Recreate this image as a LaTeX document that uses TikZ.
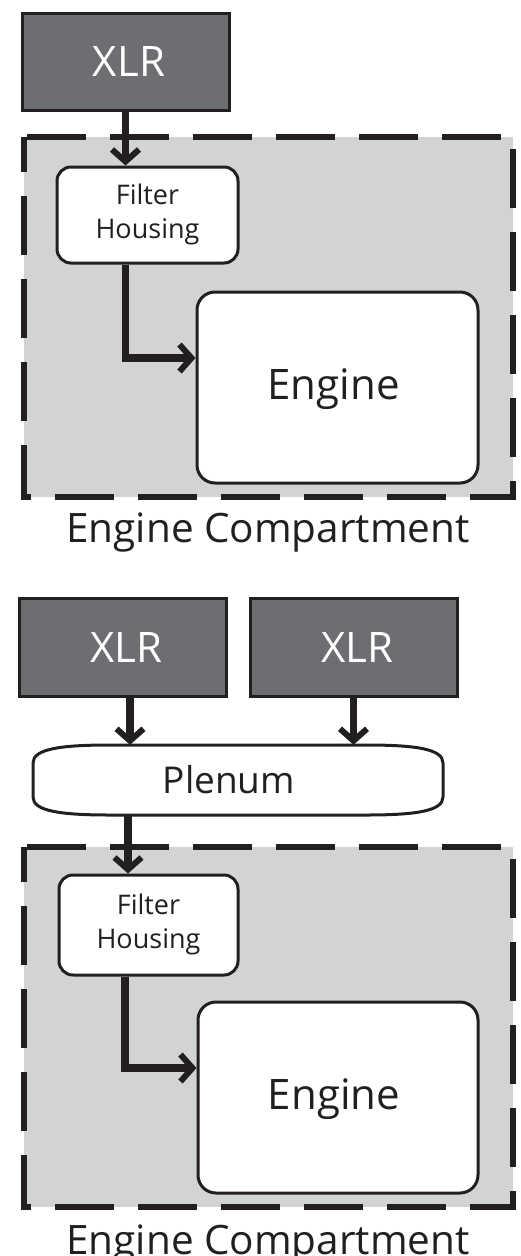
\documentclass[tikz,border=0pt]{standalone}
\usepackage{fontspec}
\setmainfont{Open Sans}
\usetikzlibrary{arrows.meta,calc}
\definecolor{xlrgray}{HTML}{6D6E71}
\definecolor{compgray}{HTML}{D1D3D4}
\definecolor{ink}{HTML}{231F20}
\begin{document}
\begin{tikzpicture}[x=1pt,y=-1pt,
  xlrbox/.style={draw=ink,line width=3pt,fill=xlrgray,inner sep=0pt},
  xlrtext/.style={text=white,inner sep=0pt,font=\fontsize{42}{42}\selectfont},
  filterbox/.style={draw=ink,line width=3pt,fill=white,rounded corners=14pt,inner sep=0pt},
  filtertext/.style={text=ink,inner sep=0pt,align=center,font=\fontsize{27}{34}\selectfont},
  enginebox/.style={draw=ink,line width=3pt,fill=white,rounded corners=18pt,inner sep=0pt},
  enginetext/.style={text=ink,inner sep=0pt,font=\fontsize{42}{42}\selectfont},
  comp/.style={fill=compgray,draw=ink,line width=6pt,dash pattern=on 59pt off 24pt,dash phase=24pt},
  complabel/.style={text=ink,inner sep=0pt,anchor=base,font=\fontsize{40.5}{40.5}\selectfont},
  flow/.style={draw=ink,line width=7.5pt,-{Straight Barb[length=12pt,width=27pt,line width=6pt]}},
  flowelbow/.style={draw=ink,line width=7.5pt,line join=miter,-{Straight Barb[length=12pt,width=27pt,line width=6pt]}}
]
\useasboundingbox (0,0) rectangle (520,1256);
% ---------- top diagram ----------
\draw[comp] (24,137) rectangle (513,497);
\node[xlrbox,minimum width=207pt,minimum height=97pt] (xlrA) at (125.5,61.5) {};
\node[xlrtext] (xlrAt) at ([xshift=3.5pt]xlrA.center) {XLR};
\node[filterbox,minimum width=181pt,minimum height=96pt] (filtA) at (147.5,215) {};
\node[filtertext] (filtAt) at ([yshift=1pt]filtA.center) {Filter\\Housing};
\node[enginebox,minimum width=281pt,minimum height=191pt] (engA) at (337.5,387.5) {};
\node[enginetext] (engAt) at ([xshift=-4pt,yshift=-2pt]engA.center) {Engine};
\node[complabel] (labA) at (268,542) {Engine Compartment};
\draw[flow] (xlrA.south) -- (xlrA.south |- filtA.north);
\coordinate (startA) at ([xshift=-22pt]filtA.south);
\draw[flowelbow] (startA) |- ([yshift=29.5pt]engA.west);
% ---------- bottom diagram ----------
\draw[comp] (24,847) rectangle (513,1207);
\node[xlrbox,minimum width=207pt,minimum height=98pt] (xlrB1) at (122.5,647) {};
\node[xlrtext] (xlrB1t) at ([xshift=4pt]xlrB1.center) {XLR};
\node[xlrbox,minimum width=207pt,minimum height=98pt] (xlrB2) at (353.5,647) {};
\node[xlrtext] (xlrB2t) at ([xshift=4pt]xlrB2.center) {XLR};
\node[inner sep=0pt,minimum width=410pt,minimum height=70pt] (plen) at (238,780) {};
\draw[ink,line width=3pt,fill=white]
  (33,763) .. controls (33,749) and (60,745) .. (110,745) -- (366,745)
  .. controls (416,745) and (443,749) .. (443,763) -- (443,797)
  .. controls (443,811) and (416,815) .. (366,815) -- (110,815)
  .. controls (60,815) and (33,811) .. (33,797) -- cycle;
\node[inner sep=0pt,text=ink,font=\fontsize{37}{37}\selectfont] (plent) at ([xshift=-9pt]plen.center) {Plenum};
\node[filterbox,minimum width=179pt,minimum height=100pt] (filtB) at (148.5,925) {};
\node[filtertext] (filtBt) at ([yshift=1pt]filtB.center) {Filter\\Housing};
\node[enginebox,minimum width=280pt,minimum height=191pt] (engB) at (338,1097.5) {};
\node[enginetext] (engBt) at ([xshift=-4pt,yshift=-2pt]engB.center) {Engine};
\node[complabel] (labB) at (268,1254) {Engine Compartment};
\draw[flow] ([xshift=7.5pt]xlrB1.south) -- ([xshift=7.5pt]xlrB1.south |- plen.north);
\draw[flow] (xlrB2.south) -- (xlrB2.south |- plen.north);
\draw[flow] ([xshift=-110pt]plen.south) -- ([xshift=-110pt]plen.south |- filtB.north);
\coordinate (startB) at ([xshift=-23.5pt]filtB.south);
\draw[flowelbow] (startB) |- ([yshift=29.5pt]engB.west);
\end{tikzpicture}
\end{document}
